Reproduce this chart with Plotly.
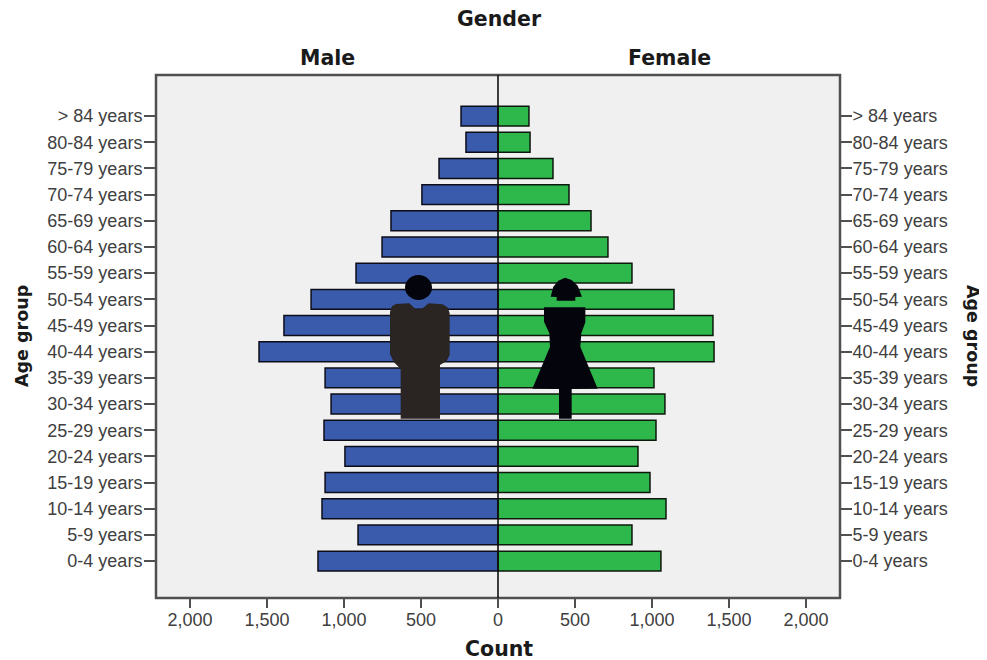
import plotly.graph_objects as go

age_groups = ["0-4 years", "5-9 years", "10-14 years", "15-19 years", "20-24 years", "25-29 years",
              "30-34 years", "35-39 years", "40-44 years", "45-49 years", "50-54 years", "55-59 years",
              "60-64 years", "65-69 years", "70-74 years", "75-79 years", "80-84 years", "> 84 years"]
male = [1169, 909, 1143, 1123, 994, 1130, 1084, 1123, 1552, 1390, 1214, 922, 753, 695, 494, 383, 208, 240]
female = [1058, 870, 1091, 987, 909, 1026, 1084, 1013, 1403, 1396, 1143, 870, 714, 604, 461, 357, 208, 201]
x_tick_values = [-2000, -1500, -1000, -500, 0, 500, 1000, 1500, 2000]
x_tick_labels = ["2,000", "1,500", "1,000", "500", "0", "500", "1,000", "1,500", "2,000"]

W, H = 987, 660
PAGE = 8  # the page's own margin round the figure
L, R, T, B = 156, 840, 75, 598
FONT = "Liberation Sans"
TICK = dict(family=FONT, size=18, color="#404040")
AXC = "#505050"


def px(x, y):
    return (x - L) / (R - L), (B - y) / (B - T)


def path(points):
    parts = []
    for i, (x, y) in enumerate(points):
        a, b = px(x, y)
        parts.append(f"{'M' if i == 0 else 'L'}{a:.5f},{b:.5f}")
    return " ".join(parts) + " Z"


def zoomed(points):
    return [(380 + a / 3, 265 + b / 3) for a, b in points]


man_body = zoomed([(30, 140), (36, 124), (48, 117), (88, 115), (104, 130), (116, 134), (130, 128), (146, 115),
                   (188, 118), (204, 128), (209, 145), (209, 270), (200, 288), (180, 300), (180, 461), (62, 461),
                   (62, 312), (42, 292), (30, 268)])
woman_head = zoomed([(555, 38), (575, 45), (593, 62), (606, 95), (586, 96), (586, 107), (530, 107), (530, 96),
                     (512, 95), (520, 65), (535, 47)])
woman_body = zoomed([(492, 127), (616, 127), (616, 172), (604, 205), (601, 245), (653, 371), (575, 372), (575, 461),
                     (537, 461), (537, 372), (457, 371), (510, 245), (508, 205), (492, 170)])
hx0, hy0 = px(405, 300)
hx1, hy1 = px(432, 275)

fig = go.Figure()
fig.add_trace(go.Bar(y=age_groups, x=[-v for v in male], orientation="h", name="Male", width=0.76,
                     marker=dict(color="#3a5bab", line=dict(color="#0c0c18", width=1.5))))
fig.add_trace(go.Bar(y=age_groups, x=female, orientation="h", name="Female", width=0.76,
                     marker=dict(color="#2eb84c", line=dict(color="#0c180c", width=1.5))))
# invisible trace that carries the right-hand category axis
fig.add_trace(go.Bar(y=age_groups, x=[0] * len(age_groups), orientation="h", yaxis="y2", showlegend=False,
                     hoverinfo="skip", marker=dict(color="rgba(0,0,0,0)", line=dict(width=0))))

y_range = [-1.41, 17 + 1.57]
fig.update_layout(
    width=W - PAGE, height=H - PAGE, barmode="overlay", showlegend=False,
    paper_bgcolor="white", plot_bgcolor="#f0f0f0",
    margin=dict(l=L - PAGE, r=W - R, t=T - PAGE, b=H - B, pad=0, autoexpand=False),
    xaxis=dict(range=[-2221, 2221], tickmode="array", tickvals=x_tick_values, ticktext=x_tick_labels,
               ticks="outside", ticklen=9, tickwidth=2, tickcolor=AXC, tickfont=TICK,
               showgrid=False, zeroline=False, showline=False, ticklabelstandoff=-4),
    yaxis=dict(range=y_range, type="category", categoryorder="array", categoryarray=age_groups,
               ticks="outside", ticklen=11, tickwidth=2, tickcolor=AXC, tickfont=TICK,
               showgrid=False, zeroline=False, showline=False, ticklabelstandoff=-2),
    yaxis2=dict(range=y_range, type="category", categoryorder="array", categoryarray=age_groups,
                overlaying="y", side="right", anchor="x",
                ticks="outside", ticklen=11, tickwidth=2, tickcolor=AXC, tickfont=TICK,
                showgrid=False, zeroline=False, showline=False, ticklabelstandoff=-3),
    shapes=[
        dict(type="rect", xref="paper", yref="paper", x0=0, x1=1, y0=0, y1=1, line=dict(color=AXC, width=2.5),
             layer="above"),
        dict(type="line", xref="x", yref="paper", x0=0, x1=0, y0=0, y1=1, line=dict(color="#111111", width=1.6),
             layer="above"),
        dict(type="circle", xref="paper", yref="paper", x0=hx0, x1=hx1, y0=hy0, y1=hy1,
             fillcolor="#04040c", line=dict(width=0), layer="above"),
        dict(type="path", xref="paper", yref="paper", path=path(man_body), fillcolor="#2a2522",
             line=dict(width=0), layer="above"),
        dict(type="path", xref="paper", yref="paper", path=path(woman_head), fillcolor="#04040c",
             line=dict(width=0), layer="above"),
        dict(type="path", xref="paper", yref="paper", path=path(woman_body), fillcolor="#04040c",
             line=dict(width=0), layer="above"),
    ],
)


def label(text, x, y, angle=0, size=20.5):
    a, b = px(x, y)
    fig.add_annotation(text=f"<b>{text}</b>", x=a, y=b, xref="paper", yref="paper", showarrow=False, textangle=angle,
                       xanchor="center", yanchor="middle", font=dict(family="DejaVu Sans", size=size, color="#1a1a1a"))


label("Gender", 499, 19)
label("Male", 327, 58)
label("Female", 669, 58)
label("Count", 499, 649)
label("Age group", 22, 336, -90, 17.5)
label("Age group", 973, 336, 90, 17.5)

fig.write_html("out.html")
